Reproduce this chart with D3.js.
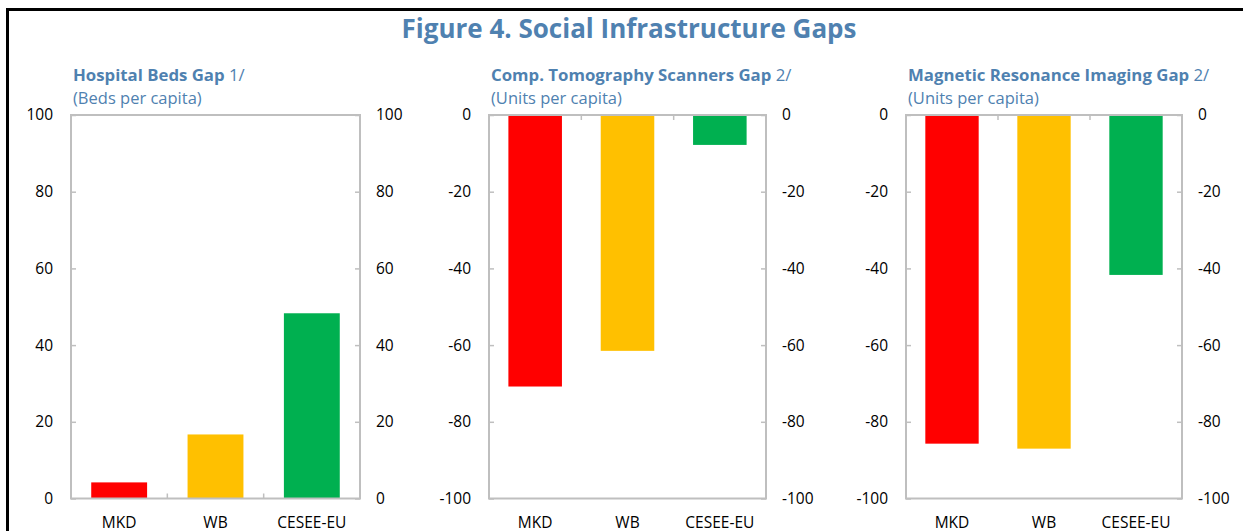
<!DOCTYPE html>
<html>
<head>
<meta charset="utf-8">
<script src="https://cdn.jsdelivr.net/npm/d3@7"></script>
<style>
  body { margin: 0; background: #fff; }
  svg { display: block; font-family: "Open Sans", "Noto Sans", sans-serif; }
</style>
</head>
<body>
<script>
// chart values
var categories = ["MKD", "WB", "CESEE-EU"];
var barColors = ["#FF0000", "#FFC000", "#00B050"];
var bedsGap = [4.2, 16.7, 48.3];
var ctGap = [-70.8, -61.5, -7.8];
var mriGap = [-85.7, -87.0, -41.7];
var posTicks = [0, 20, 40, 60, 80, 100];
var negTicks = [-100, -80, -60, -40, -20, 0];
var panelTitles = ["Hospital Beds Gap", "Comp. Tomography Scanners Gap", "Magnetic Resonance Imaging Gap"];
var panelNotes = ["1/", "2/", "2/"];
var panelUnits = ["(Beds per capita)", "(Units per capita)", "(Units per capita)"];

var svgWidth = 1243, svgHeight = 531;
var blue = "#4F81B0", grey = "#BFBFBF";
var fontStack = "\"Open Sans\", \"Noto Sans\", sans-serif";

var svg = d3.select("body").append("svg")
  .attr("width", svgWidth)
  .attr("height", svgHeight);

// outer frame (top + left visible)
svg.append("path")
  .attr("d", "M7.5,531 L7.5,9.5 L1243,9.5")
  .attr("fill", "none")
  .attr("stroke", "#000")
  .attr("stroke-width", 3);

svg.append("text")
  .attr("x", 629)
  .attr("y", 38)
  .attr("text-anchor", "middle")
  .attr("font-size", 26)
  .attr("font-weight", "bold")
  .attr("fill", blue)
  .text("Figure 4. Social Infrastructure Gaps");

var panels = [
  { left: 71, right: 360, values: bedsGap, domain: [0, 100], ticks: posTicks },
  { left: 489, right: 766, values: ctGap, domain: [-100, 0], ticks: negTicks },
  { left: 906, right: 1182, values: mriGap, domain: [-100, 0], ticks: negTicks }
];
var plotTop = 115, plotBottom = 498.5;

panels.forEach(function(p, i) {
  var g = svg.append("g");

  var x = d3.scaleBand()
    .domain(categories)
    .range([p.left, p.right])
    .paddingInner(0.42)
    .paddingOuter(0.21);

  var y = d3.scaleLinear()
    .domain(p.domain)
    .range([plotBottom, plotTop]);

  // panel heading
  var head = g.append("text")
    .attr("x", p.left + 2)
    .attr("y", 81)
    .attr("font-size", 16.8)
    .attr("fill", blue);
  head.append("tspan").attr("font-weight", "bold").text(panelTitles[i]);
  head.append("tspan").text(" " + panelNotes[i]);

  g.append("text")
    .attr("x", p.left + 2)
    .attr("y", 104)
    .attr("font-size", 16.5)
    .attr("fill", blue)
    .text(panelUnits[i]);

  // bars
  g.selectAll("rect.bar")
    .data(p.values)
    .enter()
    .append("rect")
    .attr("class", "bar")
    .attr("x", (d, k) => x(categories[k]))
    .attr("width", x.bandwidth())
    .attr("y", d => y(Math.max(d, 0)))
    .attr("height", d => Math.abs(y(d) - y(0)))
    .attr("fill", (d, k) => barColors[k]);

  // axes (plain hyphen for negatives, like the original)
  var fmt = d => String(d);
  var leftAxis = d3.axisLeft(y).tickValues(p.ticks).tickFormat(fmt).tickSize(-5).tickPadding(18);
  var rightAxis = d3.axisRight(y).tickValues(p.ticks).tickFormat(fmt).tickSize(-5).tickPadding(16);

  [g.append("g").attr("transform", `translate(${p.left},0)`).call(leftAxis),
   g.append("g").attr("transform", `translate(${p.right},0)`).call(rightAxis)].forEach(function(a) {
    a.select(".domain").remove();
    a.selectAll(".tick line").attr("stroke", grey).attr("stroke-width", 1.5);
    a.selectAll(".tick text").attr("font-size", 15.5).attr("fill", "#000")
      .attr("font-family", fontStack);
  });

  // category labels
  var bottomAxis = d3.axisBottom(x).tickSize(0).tickPadding(18);
  var bx = g.append("g").attr("transform", `translate(0,${plotBottom})`).call(bottomAxis);
  bx.select(".domain").remove();
  bx.selectAll(".tick text").attr("font-size", 15.5).attr("fill", "#000")
    .attr("font-family", fontStack);

  // category dividers
  var neg = p.domain[0] < 0;
  g.selectAll("line.div")
    .data(categories.slice(1))
    .enter()
    .append("line")
    .attr("class", "div")
    .attr("x1", c => x(c) - x.step() * x.paddingInner() / 2)
    .attr("x2", c => x(c) - x.step() * x.paddingInner() / 2)
    .attr("y1", neg ? plotTop : plotBottom)
    .attr("y2", neg ? plotTop + 5 : plotBottom - 5)
    .attr("stroke", grey)
    .attr("stroke-width", 1.5);

  // plot frame
  g.append("rect")
    .attr("x", p.left)
    .attr("y", plotTop)
    .attr("width", p.right - p.left)
    .attr("height", plotBottom - plotTop)
    .attr("fill", "none")
    .attr("stroke", grey)
    .attr("stroke-width", 2);
});
</script>
</body>
</html>
